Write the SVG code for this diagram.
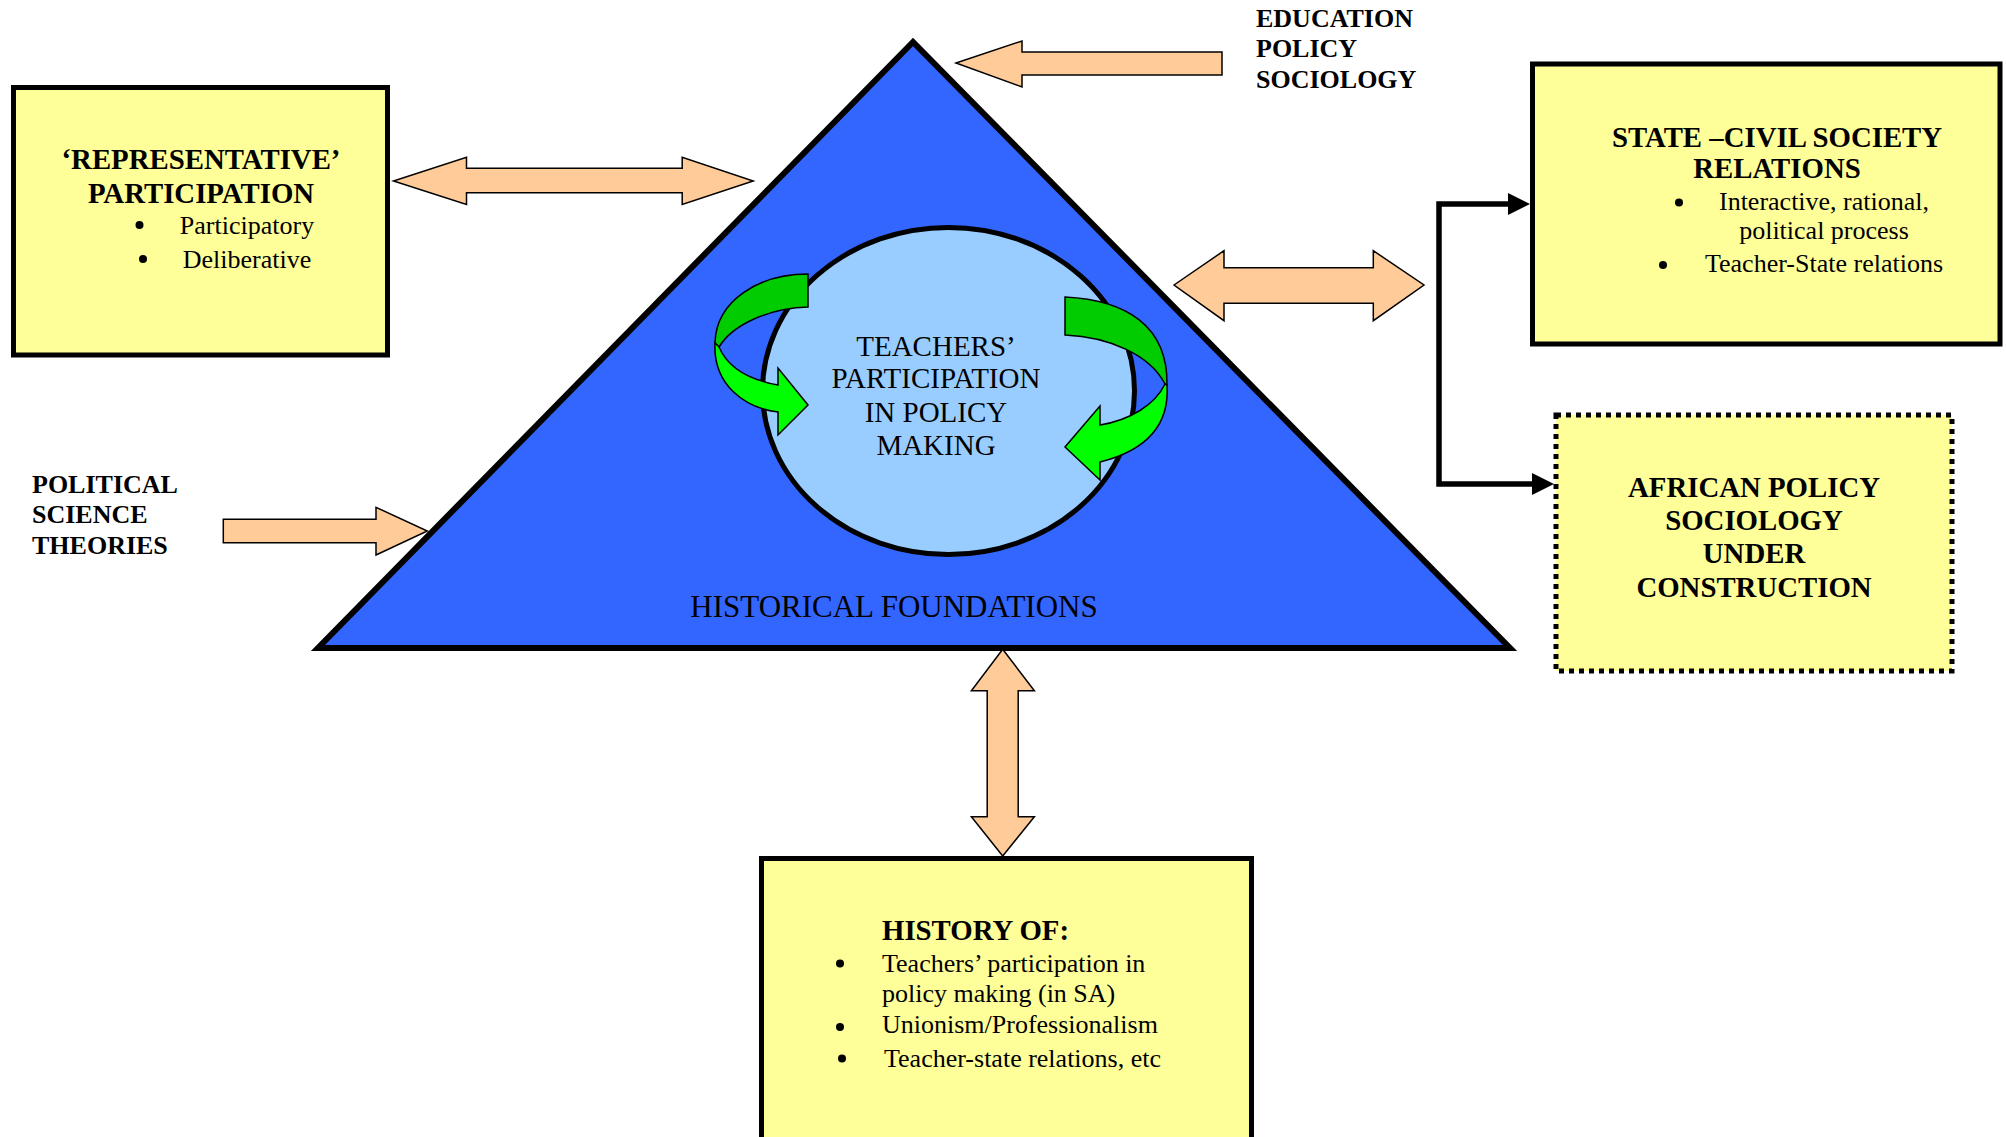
<svg xmlns="http://www.w3.org/2000/svg" width="2006" height="1137" viewBox="0 0 2006 1137">
  <style>
    .box { fill: #FFFF99; stroke: #000; stroke-width: 5; }
    .dotted { fill: #FFFF99; stroke: #000; stroke-width: 5; stroke-dasharray: 5 5; }
    .block { fill: #FFCC99; stroke: #000; stroke-width: 1.5; stroke-linejoin: miter; }
    .g-dark { fill: #00CC00; stroke: #000; stroke-width: 1.5; }
    .g-light { fill: #00FF00; stroke: #000; stroke-width: 1.5; }
    .bullet { fill: #000; }
    text { font-family: "Liberation Serif", "Times New Roman", serif; fill: #000; }
    .title { font-size: 28.8px; font-weight: bold; text-anchor: middle; }
    .item { font-size: 26px; }
    .mid { text-anchor: middle; }
    .label { font-size: 26px; font-weight: bold; }
    .core { font-size: 29px; text-anchor: middle; }
    .base { font-size: 31px; text-anchor: middle; }
  </style>
  <defs>
    <marker id="head" viewBox="0 0 22 22" refX="0" refY="11" markerWidth="22" markerHeight="22" markerUnits="userSpaceOnUse" orient="auto-start-reverse">
      <path d="M0,0 L22,11 L0,22 Z" fill="#000"/>
    </marker>
  </defs>

  <rect width="2006" height="1137" fill="#fff"/>

  <!-- central triangle with the core ellipse -->
  <g id="foundations">
    <polygon points="913,42 318,648 1510,648" fill="#3366FF" stroke="#000" stroke-width="6" stroke-linejoin="miter"/>
    <text class="base" x="894" y="617">HISTORICAL FOUNDATIONS</text>
  </g>

  <g id="core">
    <ellipse cx="948.5" cy="391" rx="186" ry="163.5" fill="#99CCFF" stroke="#000" stroke-width="5"/>
    <text class="core" x="936" y="356">TEACHERS’</text>
    <text class="core" x="936" y="388">PARTICIPATION</text>
    <text class="core" x="936" y="422">IN POLICY</text>
    <text class="core" x="936" y="455">MAKING</text>
    <!-- circular arrows around the core -->
    <path class="g-dark" d="M808,274 C760,274 716,300 715,343 L719,347 C733,324 770,308 808,307 Z"/>
    <path class="g-light" d="M715,343 C713,385 745,408 778,412 L778,435 L808,405 L778,368 L778,385 C750,380 728,368 719,347 Z"/>
    <path class="g-dark" d="M1065,297 C1125,300 1168,325 1167,385 L1165,384 C1150,355 1110,337 1065,335 Z"/>
    <path class="g-light" d="M1165,384 C1155,405 1130,420 1100,425 L1100,406 L1065,447 L1100,480 L1100,462 C1140,452 1170,430 1167,385 Z"/>
  </g>

  <g id="representative">
    <rect class="box" x="13.5" y="87.5" width="374" height="267.5"/>
    <text class="title" x="201" y="169">‘REPRESENTATIVE’</text>
    <text class="title" x="201" y="203">PARTICIPATION</text>
    <circle class="bullet" cx="139.5" cy="225" r="4"/>
    <text class="item mid" x="247" y="234">Participatory</text>
    <circle class="bullet" cx="143" cy="259" r="4"/>
    <text class="item mid" x="247" y="268">Deliberative</text>
  </g>

  <g id="state-civil-society">
    <rect class="box" x="1532.5" y="64" width="467.5" height="280"/>
    <text class="title" x="1777" y="147">STATE –CIVIL SOCIETY</text>
    <text class="title" x="1777" y="178">RELATIONS</text>
    <circle class="bullet" cx="1679" cy="202.5" r="4"/>
    <text class="item mid" x="1824" y="210">Interactive, rational,</text>
    <text class="item mid" x="1824" y="239">political process</text>
    <circle class="bullet" cx="1663" cy="265" r="4"/>
    <text class="item mid" x="1824" y="272">Teacher-State relations</text>
  </g>

  <g id="african-policy-sociology">
    <rect class="dotted" x="1556" y="415" width="396" height="256"/>
    <text class="title" x="1754" y="497">AFRICAN POLICY</text>
    <text class="title" x="1754" y="530">SOCIOLOGY</text>
    <text class="title" x="1754" y="563">UNDER</text>
    <text class="title" x="1754" y="597">CONSTRUCTION</text>
  </g>

  <g id="history">
    <rect class="box" x="761.5" y="858.5" width="490" height="290"/>
    <text class="title" x="882" y="940" style="text-anchor:start">HISTORY OF:</text>
    <circle class="bullet" cx="840" cy="963.5" r="4"/>
    <text class="item" x="882" y="972">Teachers’ participation in</text>
    <text class="item" x="882" y="1002">policy making (in SA)</text>
    <circle class="bullet" cx="840" cy="1027" r="4"/>
    <text class="item" x="882" y="1033">Unionism/Professionalism</text>
    <circle class="bullet" cx="842" cy="1058.5" r="4"/>
    <text class="item" x="884" y="1067">Teacher-state relations, etc</text>
  </g>

  <g id="education-policy-sociology">
    <text class="label" x="1256" y="27">EDUCATION</text>
    <text class="label" x="1256" y="57">POLICY</text>
    <text class="label" x="1256" y="88">SOCIOLOGY</text>
  </g>

  <g id="political-science-theories">
    <text class="label" x="32" y="493">POLITICAL</text>
    <text class="label" x="32" y="523">SCIENCE</text>
    <text class="label" x="32" y="554">THEORIES</text>
  </g>

  <!-- connectors -->
  <g id="connectors">
    <polygon class="block" points="956,63 1022,41 1022,52 1222,52 1222,75 1022,75 1022,87"/>
    <polygon class="block" points="393.5,181 466.5,157.3 466.5,168.3 682.2,168.3 682.2,157.3 753.2,181 682.2,204.5 682.2,192.7 466.5,192.7 466.5,204.5"/>
    <polygon class="block" points="1174,285 1224,250.7 1224,267.7 1373.3,267.7 1373.3,250.7 1424,285 1373.3,320.7 1373.3,303.3 1224,303.3 1224,320.7"/>
    <polygon class="block" points="223.3,519.3 376,519.3 376,507.3 427.3,531 376,555 376,542.7 223.3,542.7"/>
    <polygon class="block" points="1002.7,649.3 1034.4,690.7 1018.2,690.7 1018.2,816.7 1034.4,816.7 1002.7,856 971.4,816.7 987.2,816.7 987.2,690.7 971.4,690.7"/>
    <path d="M1508,204 H1439 V484 H1532" fill="none" stroke="#000" stroke-width="5.5" stroke-linejoin="miter" marker-start="url(#head)" marker-end="url(#head)"/>
  </g>
</svg>
